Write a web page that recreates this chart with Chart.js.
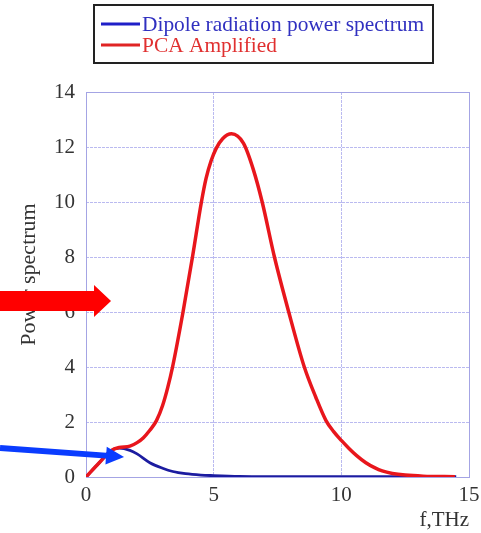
<!DOCTYPE html>
<html>
<head>
<meta charset="utf-8">
<script src="https://cdn.jsdelivr.net/npm/chart.js@4/dist/chart.umd.min.js"></script>
<style>
html,body{margin:0;padding:0;background:#fff;}
#wrap{width:481px;height:533px;}
</style>
</head>
<body>
<div id="wrap"><canvas id="c" width="481" height="533"></canvas></div>
<script>
// ---- data ----
const freqPca    = [0,0.5,1,1.3,1.72,2.0,2.24,2.5,2.76,3.0,3.2,3.39,3.8,4.17,4.52,4.7,4.9,5.1,5.35,5.7,6.17,6.56,6.9,7.38,7.94,8.55,9.0,9.4,9.7,10.0,10.3,10.6,10.96,11.3,11.6,12.0,12.5,13.2,14.45];
const pca        = [0,0.5,0.97,1.07,1.12,1.25,1.42,1.7,2.05,2.6,3.25,4.0,6.0,8.0,10.0,10.85,11.5,11.95,12.3,12.48,12.13,11.16,10.0,8.0,6.0,4.0,2.9,2.05,1.65,1.33,1.04,0.78,0.52,0.34,0.22,0.13,0.07,0.03,0.01];
const freqDipole = [0,0.5,1,1.3,1.72,2.0,2.5,3.0,3.4,3.9,4.5,5.0,6.0,7.0,14.5];
const dipole     = [0,0.5,0.97,1.05,0.97,0.84,0.52,0.32,0.2,0.12,0.07,0.05,0.02,0.01,0.01];
const xTicks = [0,5,10,15];
const yTicks = [0,2,4,6,8,10,12,14];
const seriesNames = ['Dipole radiation power spectrum','PCA Amplified'];
const xTitle = 'f,THz';
const yTitle = 'Power spectrum';

const SERIF = '"Liberation Serif","DejaVu Serif",serif';
const lineBlue = '#1c1ca0';
const lineRed = '#e8161c';

const toPts = (xs, ys) => xs.map((x,i)=>({x:x,y:ys[i]}));

const legendPlugin = {
  id:'customLegend',
  afterDraw(chart){
    const ctx = chart.ctx;
    ctx.save();
    ctx.lineWidth = 2;
    ctx.strokeStyle = '#222';
    ctx.strokeRect(94,5,339,58);
    const rows = [
      {name:seriesNames[0], line:'#1f1fc8', text:'#3030c0', y:24},
      {name:seriesNames[1], line:'#e02424', text:'#e03030', y:45}
    ];
    ctx.font = '21.4px ' + SERIF;
    ctx.textBaseline = 'middle';
    rows.forEach(r=>{
      ctx.strokeStyle = r.line; ctx.lineWidth = 3;
      ctx.beginPath(); ctx.moveTo(101,r.y); ctx.lineTo(140,r.y); ctx.stroke();
      ctx.fillStyle = r.text;
      ctx.fillText(r.name, 142, r.y+1);
    });
    ctx.restore();
  }
};

const yTitlePlugin = {
  id:'yTitle',
  afterDraw(chart){
    const ctx = chart.ctx, a = chart.chartArea;
    ctx.save();
    ctx.translate(29, (a.top + a.bottom)/2 - 10);
    ctx.rotate(-Math.PI/2);
    ctx.font = '22px ' + SERIF;
    ctx.fillStyle = '#333';
    ctx.textAlign = 'center';
    ctx.textBaseline = 'middle';
    ctx.fillText(yTitle, 0, 0);
    ctx.restore();
  }
};

const framePlugin = {
  id:'frame',
  beforeDatasetsDraw(chart){
    const {ctx, chartArea:a} = chart;
    ctx.save();
    ctx.strokeStyle = '#a4a4e4';
    ctx.lineWidth = 1;
    ctx.strokeRect(a.left+0.5, a.top+0.5, a.right-a.left, a.bottom-a.top);
    ctx.restore();
  }
};

function arrow(ctx, x0, y0, x1, y1, body, headLen, headHalf, color){
  const ang = Math.atan2(y1-y0, x1-x0);
  const len = Math.hypot(x1-x0, y1-y0);
  ctx.save();
  ctx.translate(x0,y0); ctx.rotate(ang);
  ctx.fillStyle = color;
  ctx.beginPath();
  ctx.moveTo(0,-body/2);
  ctx.lineTo(len-headLen,-body/2);
  ctx.lineTo(len-headLen,-headHalf);
  ctx.lineTo(len,0);
  ctx.lineTo(len-headLen,headHalf);
  ctx.lineTo(len-headLen,body/2);
  ctx.lineTo(0,body/2);
  ctx.closePath();
  ctx.fill();
  ctx.restore();
}

const arrowPlugin = {
  id:'arrows',
  afterDraw(chart){
    const xs = chart.scales.x, ys = chart.scales.y, ctx = chart.ctx;
    const rx = xs.getPixelForValue(0.98), ry = ys.getPixelForValue(6.4);
    arrow(ctx, 0, ry, rx, ry, 20, 17, 16, '#ff0000');
    const bx = xs.getPixelForValue(1.49), by = ys.getPixelForValue(0.73);
    arrow(ctx, 0, by-9, bx, by, 6, 18, 9, '#0a3cff');
  }
};

new Chart(document.getElementById('c'), {
  type:'line',
  data:{
    datasets:[
      {label:seriesNames[1], data:toPts(freqPca, pca), borderColor:lineRed, borderWidth:3.5, pointRadius:0, cubicInterpolationMode:'monotone', fill:false},
      {label:seriesNames[0], data:toPts(freqDipole, dipole), borderColor:lineBlue, borderWidth:2.8, pointRadius:0, cubicInterpolationMode:'monotone', fill:false}
    ]
  },
  options:{
    responsive:false,
    animation:false,
    devicePixelRatio:1,
    layout:{padding:{top:92,right:12,left:0,bottom:0}},
    plugins:{legend:{display:false}, tooltip:{enabled:false}},
    scales:{
      x:{
        type:'linear', min:0, max:15,
        afterBuildTicks:(s)=>{ s.ticks = xTicks.map(v=>({value:v})); },
        afterFit:(s)=>{ s.height = 56; s.paddingRight = 0; s.paddingLeft = 0; },
        grid:{color:'rgba(140,140,230,0.6)', drawTicks:false, lineWidth:1},
        border:{display:false, dash:[3,1]},
        ticks:{font:{family:SERIF,size:21}, color:'#333', padding:6, maxRotation:0},
        title:{display:true, text:xTitle, align:'end', font:{family:SERIF,size:21}, color:'#333', padding:{top:0,bottom:0}}
      },
      y:{
        min:0, max:14,
        afterBuildTicks:(s)=>{ s.ticks = yTicks.map(v=>({value:v})); },
        afterFit:(s)=>{ s.width = 86; },
        grid:{color:'rgba(140,140,230,0.6)', drawTicks:false, lineWidth:1},
        border:{display:false, dash:[3,1]},
        ticks:{font:{family:SERIF,size:21}, color:'#333', padding:11},
        title:{display:false}
      }
    }
  },
  plugins:[framePlugin, legendPlugin, yTitlePlugin, arrowPlugin]
});
</script>
</body>
</html>
